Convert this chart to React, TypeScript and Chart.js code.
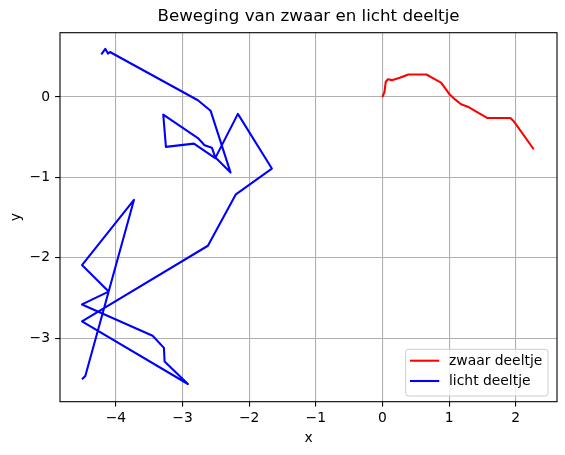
import React, { useEffect, useRef } from "react";
import { Chart, registerables } from "chart.js";

Chart.register(...registerables);

const chartTitle = "Beweging van zwaar en licht deeltje";
const xAxisLabel = "x";
const yAxisLabel = "y";
const seriesNames = ["zwaar deeltje", "licht deeltje"];
const seriesColors = ["#ff0000", "#0000ff"];

const heavyX = [0, 0.03, 0.05, 0.08, 0.14, 0.26, 0.39, 0.66, 0.79, 0.88, 0.94, 1.01, 1.09, 1.18, 1.28, 1.57, 1.92, 1.97, 2.27];
const heavyY = [0, 0.06, 0.19, 0.22, 0.21, 0.24, 0.28, 0.28, 0.22, 0.18, 0.11, 0.03, -0.03, -0.09, -0.12, -0.26, -0.26, -0.3, -0.65];

const lightX = [-4.22, -4.16, -4.12, -4.09, -2.77, -2.58, -2.28, -2.51, -2.56, -2.67, -2.77, -3.29, -3.25, -2.83, -2.51, -2.17, -1.66, -2.2, -2.62, -4.51, -2.92, -3.27, -3.28, -3.45, -4.51, -4.11, -4.51, -3.73, -4.46, -4.51];
const lightY = [0.53, 0.6, 0.54, 0.56, -0.04, -0.17, -0.94, -0.75, -0.63, -0.6, -0.51, -0.22, -0.62, -0.58, -0.76, -0.21, -0.89, -1.21, -1.85, -2.79, -3.57, -3.29, -3.12, -2.97, -2.58, -2.42, -2.09, -1.28, -3.47, -3.51];

const xTicks = [-4, -3, -2, -1, 0, 1, 2];
const yTicks = [-3, -2, -1, 0];
const xLimits = [-4.84, 2.62];
const yLimits = [-3.79, 0.8];

const FONT = "'DejaVu Sans', sans-serif";
const FS = 13.89;
const W = 565;
const H = 455;

const fmt = (v: number) => (v < 0 ? "\u2212" + Math.abs(v) : String(v));

const decorPlugin = {
  id: "decor",
  afterDraw(chart: any) {
    const ctx = chart.ctx as CanvasRenderingContext2D;
    const a = chart.chartArea;
    ctx.save();
    // spines
    ctx.strokeStyle = "#000";
    ctx.lineWidth = 1.1;
    ctx.strokeRect(a.left, a.top, a.right - a.left, a.bottom - a.top);
    // title
    ctx.fillStyle = "#000";
    ctx.font = `16.67px ${FONT}`;
    ctx.textAlign = "center";
    ctx.textBaseline = "alphabetic";
    ctx.fillText(chartTitle, (a.left + a.right) / 2, a.top - 12.2);
    // axis labels
    ctx.font = `${FS}px ${FONT}`;
    ctx.fillText(xAxisLabel, (a.left + a.right) / 2, 441.5);
    ctx.save();
    ctx.translate(20.3, (a.top + a.bottom) / 2);
    ctx.rotate(-Math.PI / 2);
    ctx.fillText(yAxisLabel, 0, 0);
    ctx.restore();
    // legend
    const bx = 405.7, by = 349.3, bw = 142.3, bh = 46.7, r = 2.8;
    ctx.beginPath();
    ctx.moveTo(bx + r, by);
    ctx.lineTo(bx + bw - r, by);
    ctx.arcTo(bx + bw, by, bx + bw, by + r, r);
    ctx.lineTo(bx + bw, by + bh - r);
    ctx.arcTo(bx + bw, by + bh, bx + bw - r, by + bh, r);
    ctx.lineTo(bx + r, by + bh);
    ctx.arcTo(bx, by + bh, bx, by + bh - r, r);
    ctx.lineTo(bx, by + r);
    ctx.arcTo(bx, by, bx + r, by, r);
    ctx.closePath();
    ctx.fillStyle = "rgba(255,255,255,0.8)";
    ctx.fill();
    ctx.strokeStyle = "#cccccc";
    ctx.lineWidth = 1;
    ctx.stroke();
    const rows = [360.7, 381];
    chart.data.datasets.forEach((ds: any, i: number) => {
      const y = rows[i];
      ctx.strokeStyle = ds.borderColor;
      ctx.lineWidth = 2.08;
      ctx.beginPath();
      ctx.moveTo(410, y);
      ctx.lineTo(439.3, y);
      ctx.stroke();
      ctx.fillStyle = "#000";
      ctx.textAlign = "left";
      ctx.textBaseline = "middle";
      ctx.font = `${FS}px ${FONT}`;
      ctx.fillText(ds.label, 449, y + 0.5);
    });
    ctx.restore();
  },
};

export default function App() {
  const ref = useRef<HTMLCanvasElement>(null);
  useEffect(() => {
    if (!ref.current) return;
    const heavy = heavyX.map((x, i) => ({ x, y: heavyY[i] }));
    const light = lightX.map((x, i) => ({ x, y: lightY[i] }));
    const gridCommon = {
      color: "#b0b0b0",
      lineWidth: 1.1,
      drawTicks: true,
      tickLength: 4.9,
      tickColor: "#000",
      tickWidth: 1.1,
    };
    const chart = new Chart(ref.current, {
      type: "scatter",
      data: {
        datasets: [
          { label: seriesNames[0], data: heavy, showLine: true, borderColor: seriesColors[0], backgroundColor: seriesColors[0], borderWidth: 2.08, pointRadius: 0, borderJoinStyle: "round", tension: 0 },
          { label: seriesNames[1], data: light, showLine: true, borderColor: seriesColors[1], backgroundColor: seriesColors[1], borderWidth: 2.08, pointRadius: 0, borderJoinStyle: "round", tension: 0 },
        ],
      },
      options: {
        responsive: false,
        animation: false,
        devicePixelRatio: 1,
        layout: { padding: { top: 32.7, right: 8, left: 0, bottom: 0 } },
        plugins: { legend: { display: false }, title: { display: false }, tooltip: { enabled: false } },
        scales: {
          x: {
            type: "linear",
            min: xLimits[0],
            max: xLimits[1],
            grid: gridCommon as any,
            border: { display: false },
            ticks: { autoSkip: false, maxRotation: 0, padding: 3.5, color: "#000", font: { family: FONT, size: FS }, callback: (v: any) => fmt(Number(v)) },
            afterBuildTicks: (s: any) => { s.ticks = xTicks.map((v) => ({ value: v })); },
            afterFit: (s: any) => { s.height = H - 401.7; },
          },
          y: {
            type: "linear",
            min: yLimits[0],
            max: yLimits[1],
            grid: gridCommon as any,
            border: { display: false },
            ticks: { autoSkip: false, padding: 5.1, color: "#000", font: { family: FONT, size: FS }, callback: (v: any) => fmt(Number(v)) },
            afterBuildTicks: (s: any) => { s.ticks = yTicks.map((v) => ({ value: v })); },
            afterFit: (s: any) => { s.width = 60; },
          },
        },
      },
      plugins: [decorPlugin],
    });
    return () => chart.destroy();
  }, []);
  return (
    <div style={{ position: "absolute", left: 0, top: 0, width: W, height: H, background: "#fff" }}>
      <canvas ref={ref} width={W} height={H} style={{ display: "block" }} />
    </div>
  );
}
